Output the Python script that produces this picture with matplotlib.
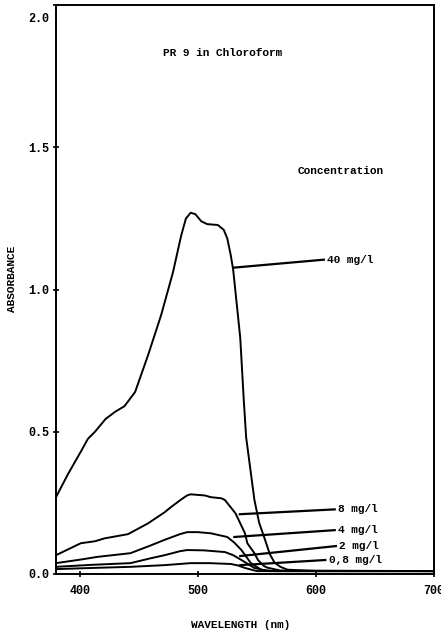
import matplotlib
matplotlib.use("Agg")
import matplotlib.pyplot as plt
from matplotlib.transforms import ScaledTranslation

# Absorbance spectra of PR 9 in chloroform at several concentrations
wl_40 = [380, 390, 401, 407, 413, 422, 430, 438, 447, 458, 469, 479, 486, 490,
         494, 498, 503, 508, 517, 522, 525, 528, 530, 536, 539, 541, 548, 552,
         557, 561, 565, 570, 576, 600, 700]
abs_40 = [0.27, 0.35, 0.43, 0.475, 0.50, 0.545, 0.57, 0.59, 0.64, 0.77, 0.91,
          1.06, 1.19, 1.25, 1.27, 1.265, 1.24, 1.23, 1.227, 1.21, 1.18, 1.12,
          1.07, 0.83, 0.61, 0.48, 0.26, 0.18, 0.12, 0.07, 0.04, 0.025, 0.015,
          0.01, 0.01]

wl_8 = [380, 401, 413, 421, 441, 458, 472, 477, 486, 491, 494, 506, 511, 520,
        523, 528, 532, 536, 540, 542, 548, 551, 556, 559, 570, 700]
abs_8 = [0.066, 0.108, 0.115, 0.125, 0.14, 0.178, 0.217, 0.234, 0.262, 0.276,
         0.28, 0.276, 0.27, 0.266, 0.26, 0.234, 0.213, 0.178, 0.143, 0.108,
         0.073, 0.049, 0.028, 0.022, 0.012, 0.01]

wl_4 = [380, 400, 415, 443, 460, 472, 485, 491, 500, 511, 525, 531, 537, 545,
        554, 565, 700]
abs_4 = [0.038, 0.05, 0.06, 0.073, 0.1, 0.12, 0.14, 0.147, 0.147, 0.143, 0.13,
         0.11, 0.084, 0.038, 0.014, 0.01, 0.01]

wl_2 = [380, 410, 443, 460, 472, 485, 491, 505, 523, 530, 537, 548, 560, 700]
abs_2 = [0.025, 0.032, 0.038, 0.055, 0.066, 0.08, 0.084, 0.083, 0.077, 0.066,
         0.049, 0.021, 0.01, 0.01]

wl_08 = [380, 410, 443, 472, 494, 510, 528, 534, 540, 550, 700]
abs_08 = [0.017, 0.021, 0.025, 0.031, 0.038, 0.038, 0.035, 0.03, 0.021, 0.01,
          0.01]

series_wl = [wl_40, wl_8, wl_4, wl_2, wl_08]
series_abs = [abs_40, abs_8, abs_4, abs_2, abs_08]
series_labels = ["40 mg/l", "8 mg/l", "4 mg/l", "2 mg/l", "0,8 mg/l"]

x_ticks = [400, 500, 600, 700]
y_ticks = [0.0, 0.5, 1.0, 1.5, 2.0]
y_ticklabels = ["0.0", "0.5", "1.0", "1.5", "2.0"]

title_text = "PR 9 in Chloroform"
legend_title = "Concentration"
x_label = "WAVELENGTH (nm)"
y_label = "ABSORBANCE"

# leader lines: (start on curve) -> (end at label), in data coordinates
leader_start = [(530.5, 1.077), (535.6, 0.21), (531.0, 0.13), (536.0, 0.063),
                (536.0, 0.031)]
leader_end = [(606.8, 1.105), (616.0, 0.227), (616.0, 0.154), (617.0, 0.098),
              (608.0, 0.049)]

FONT = ["Liberation Mono", "DejaVu Sans Mono"]
plt.rcParams["font.family"] = FONT
plt.rcParams["font.weight"] = "bold"

fig = plt.figure(figsize=(4.41, 6.42), dpi=100)
ax = fig.add_axes([0.127, 0.106, 0.857, 0.886])

for wl, ab in zip(series_wl, series_abs):
    ax.plot(wl, ab, color="black", lw=1.4, solid_joinstyle="round")

for (x0, y0), (x1, y1), lab in zip(leader_start, leader_end, series_labels):
    ax.plot([x0, x1], [y0, y1], color="black", lw=1.6)
    ax.text(x1 + 3, y1, lab, ha="left", va="center", fontsize=8,
            fontweight="bold")

ax.set_xlim(380, 700)
ax.set_ylim(0, 2.0)
ax.set_xticks(x_ticks)
ax.set_yticks(y_ticks)
ax.set_yticklabels(y_ticklabels)
ax.tick_params(direction="inout", length=4, width=1.2, labelsize=8.5)
ax.tick_params(axis="y", pad=3)
ax.tick_params(axis="x", pad=6)
for lbl in ax.get_xticklabels() + ax.get_yticklabels():
    lbl.set_fontweight("bold")
# the top value label sits a little below the frame edge
top_lbl = ax.get_yticklabels()[-1]
top_lbl.set_transform(top_lbl.get_transform()
                      + ScaledTranslation(0, -9 / 72, fig.dpi_scale_trans))
for s in ax.spines.values():
    s.set_linewidth(1.4)

ax.text(0.283, 0.916, title_text, transform=ax.transAxes, ha="left",
        va="center", fontsize=8, fontweight="bold")
ax.text(0.638, 0.708, legend_title, transform=ax.transAxes, ha="left",
        va="center", fontsize=8, fontweight="bold")

fig.text(0.545, 0.026, x_label, ha="center", va="center", fontsize=8,
         fontweight="bold")
fig.text(0.027, 0.565, y_label, ha="center", va="center", rotation=90,
         fontsize=8, fontweight="bold")

fig.savefig("out.png", dpi=100)
